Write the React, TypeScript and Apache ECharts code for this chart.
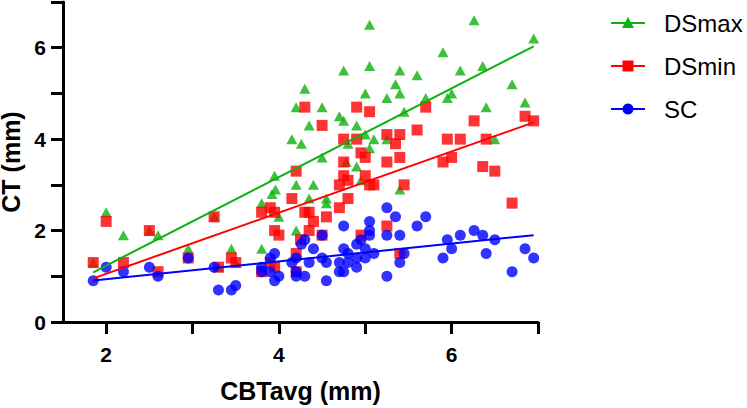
import React, { useEffect, useRef } from "react";
import * as echarts from "echarts";

// Values: [CBTavg, CT]
// (a few DSmax points lie hidden under DSmin squares at the same CBTavg)
const dsmax: [number, number][] = [
  [1.85, 1.3], [2.5, 2.0], [3.25, 2.3], [3.3, 1.2], [3.5, 1.3],
  [2.0, 2.4], [2.2, 1.9], [2.6, 1.9], [2.95, 1.6], [3.45, 1.6], [3.8, 2.6], [3.8, 1.6],
  [3.95, 3.2], [3.96, 2.9], [3.92, 2.8], [4.0, 2.3], [4.15, 4.0], [4.2, 4.7], [4.26, 3.9],
  [4.3, 5.1], [4.2, 3.0], [4.2, 2.0], [4.35, 4.3], [4.35, 2.7], [4.4, 3.0], [4.5, 4.7],
  [4.5, 3.6], [4.55, 2.7], [4.55, 2.6], [4.7, 4.5], [4.75, 4.4], [4.75, 5.5], [4.78, 3.5],
  [4.8, 3.9], [4.9, 4.3], [4.9, 3.4], [4.95, 3.1], [5.0, 5.0], [5.0, 4.1], [5.05, 6.5],
  [5.05, 5.6], [5.05, 3.8], [5.1, 4.0], [5.25, 4.9], [5.25, 4.0], [5.35, 5.2], [5.4, 5.5],
  [5.4, 5.0], [5.4, 2.9], [5.45, 4.6], [5.6, 5.4], [5.7, 4.9], [5.9, 5.9], [5.95, 4.9],
  [6.0, 5.0], [6.1, 5.5], [6.26, 6.6], [6.36, 5.6], [6.4, 4.7], [6.5, 4.0], [6.7, 5.2],
  [6.85, 4.8], [6.95, 6.2],
];

const dsmin: [number, number][] = [
  [1.85, 1.3], [2.0, 2.2], [2.2, 1.3], [2.5, 2.0], [2.6, 1.1], [2.95, 1.4], [3.25, 2.3],
  [3.3, 1.2], [3.45, 1.4], [3.5, 1.3], [3.8, 2.4], [3.9, 2.5], [3.95, 2.4], [3.95, 2.0],
  [4.0, 1.9], [4.15, 2.7], [4.2, 3.3], [3.8, 1.1], [3.9, 1.3], [3.95, 1.2], [4.2, 1.5],
  [4.2, 1.1], [4.25, 1.8], [4.3, 2.4], [4.35, 2.4], [4.4, 2.2], [4.35, 2.0], [4.55, 2.3],
  [4.5, 1.9], [4.3, 4.7], [4.5, 4.3], [4.7, 3.0], [4.7, 2.5], [4.75, 3.5], [4.75, 3.2],
  [4.75, 4.0], [4.8, 2.7], [4.8, 3.1], [4.9, 4.7], [4.9, 4.0], [4.95, 3.7], [4.95, 1.9],
  [5.0, 3.6], [5.0, 3.2], [5.05, 4.6], [5.05, 3.0], [5.1, 3.0], [5.25, 4.1], [5.25, 3.5],
  [5.25, 2.1], [5.35, 3.9], [5.4, 4.1], [5.4, 3.6], [5.4, 1.5], [5.45, 3.0], [5.6, 4.2],
  [5.7, 4.7], [5.9, 3.5], [5.95, 4.0], [6.0, 3.6], [6.1, 4.0], [6.26, 4.4], [6.36, 3.4],
  [6.4, 4.0], [6.5, 3.3], [6.7, 2.6], [6.85, 4.5], [6.95, 4.4],
];

const sc: [number, number][] = [
  [1.85, 0.9], [2.0, 1.2], [2.2, 1.1], [2.5, 1.2], [2.6, 1.0], [2.95, 1.4], [3.25, 1.2],
  [3.3, 0.7], [3.45, 0.7], [3.5, 0.8], [3.8, 1.2], [3.8, 1.1], [3.9, 1.4], [3.95, 1.5],
  [3.9, 1.1], [3.95, 0.9], [4.0, 1.0], [4.15, 1.3], [4.2, 1.4], [4.2, 1.1], [4.2, 1.0],
  [4.26, 1.7], [4.3, 1.8], [4.35, 1.3], [4.3, 1.0], [4.4, 1.6], [4.5, 1.9], [4.5, 1.4],
  [4.55, 1.3], [4.55, 0.9], [4.7, 1.3], [4.7, 1.1], [4.75, 1.6], [4.75, 2.1], [4.75, 1.1],
  [4.8, 1.5], [4.8, 1.3], [4.9, 1.7], [4.95, 1.8], [4.9, 1.2], [4.9, 1.4], [5.0, 1.6],
  [5.0, 1.4], [5.05, 2.2], [5.05, 2.0], [5.05, 1.9], [5.1, 1.5], [5.25, 2.5], [5.25, 1.9],
  [5.25, 1.0], [5.35, 2.3], [5.4, 1.9], [5.6, 2.1], [5.7, 2.3], [5.45, 1.5], [5.4, 1.3],
  [5.95, 1.8], [6.0, 1.6], [5.9, 1.4], [6.1, 1.9], [6.26, 2.0], [6.36, 1.9], [6.5, 1.8],
  [6.4, 1.5], [6.7, 1.1], [6.85, 1.6], [6.95, 1.4],
];

const seriesNames = ["DSmax", "DSmin", "SC"];
const xTicks = [2, 3, 4, 5, 6, 7];
const xLabels = [2, 4, 6];
const yTicks = [0, 1, 2, 3, 4, 5, 6, 7];
const yLabels = [0, 2, 4, 6];

const GREEN = "#0db10d";
const RED = "#ff0000";
const BLUE = "#0000ff";
const FONT = 'Arial, "Liberation Sans", sans-serif';

function linearFit(pts: [number, number][]): [number, number][] {
  const n = pts.length;
  let sx = 0, sy = 0, sxx = 0, sxy = 0;
  for (const [x, y] of pts) { sx += x; sy += y; sxx += x * x; sxy += x * y; }
  const b = (n * sxy - sx * sy) / (n * sxx - sx * sx);
  const a = (sy - b * sx) / n;
  const xs = pts.map((p) => p[0]);
  const x0 = Math.min(...xs);
  const x1 = Math.max(...xs);
  return [[x0, a + b * x0], [x1, a + b * x1]];
}

export default function App() {
  const ref = useRef<HTMLDivElement>(null);
  useEffect(() => {
    if (!ref.current) return;
    const chart = echarts.init(ref.current, undefined, { renderer: "svg" });
    const legendY = [23, 66, 109];
    const lx0 = 611, lx1 = 645, lm = 628;
    const legendGraphics: any[] = [];
    const colors = [GREEN, RED, BLUE];
    seriesNames.forEach((name, i) => {
      const y = legendY[i];
      legendGraphics.push({ type: "line", shape: { x1: lx0, y1: y, x2: lx1, y2: y }, style: { stroke: colors[i], lineWidth: 2 } });
      if (i === 0) {
        legendGraphics.push({ type: "polygon", shape: { points: [[lm, y - 6], [lm + 6, y + 5], [lm - 6, y + 5]] }, style: { fill: colors[i] } });
      } else if (i === 1) {
        legendGraphics.push({ type: "rect", shape: { x: lm - 5.5, y: y - 5.5, width: 11, height: 11 }, style: { fill: colors[i] } });
      } else {
        legendGraphics.push({ type: "circle", shape: { cx: lm, cy: y, r: 5.5 }, style: { fill: colors[i] } });
      }
      legendGraphics.push({ type: "text", x: 664, y, style: { text: name, font: `24px ${FONT}`, fill: "#000", verticalAlign: "middle", align: "left" } });
    });

    const axisCommon = {
      axisLine: { show: true, lineStyle: { color: "#000", width: 3 } },
      axisTick: { show: true, inside: false, length: 12, lineStyle: { color: "#000", width: 3 } },
      splitLine: { show: false },
      nameLocation: "middle" as const,
      nameTextStyle: { fontFamily: FONT, fontWeight: "bold", fontSize: 25, color: "#000" },
    };

    chart.setOption({
      animation: false,
      backgroundColor: "#fff",
      grid: { left: 63, right: 209, top: 2, bottom: 86, containLabel: false, outerBoundsMode: "none" },
      xAxis: {
        type: "value",
        min: 1.5,
        max: 7,
        name: "CBTavg (mm)",
        nameGap: 56,
        ...axisCommon,
        axisTick: { ...axisCommon.axisTick, customValues: xTicks },
        axisLabel: { customValues: xLabels, margin: 22, fontFamily: FONT, fontWeight: "bold", fontSize: 21, color: "#000" },
      },
      yAxis: {
        type: "value",
        min: 0,
        max: 7,
        interval: 1,
        name: "CT (mm)",
        nameGap: 33,
        ...axisCommon,
        axisTick: { ...axisCommon.axisTick, customValues: yTicks },
        axisLabel: { customValues: yLabels, margin: 17, fontFamily: FONT, fontWeight: "bold", fontSize: 21, color: "#000" },
      },
      series: [
        { name: "DSmax", type: "scatter", data: dsmax, symbol: "triangle", symbolSize: [11, 10], itemStyle: { color: GREEN }, z: 2 },
        { name: "DSmin", type: "scatter", data: dsmin, symbol: "rect", symbolSize: 11, itemStyle: { color: RED }, z: 2 },
        { name: "SC", type: "scatter", data: sc, symbol: "circle", symbolSize: 11, itemStyle: { color: BLUE }, z: 2 },
        { name: "DSmax fit", type: "line", data: linearFit(dsmax), showSymbol: false, symbol: "none", lineStyle: { color: GREEN, width: 2 }, z: 3 },
        { name: "DSmin fit", type: "line", data: linearFit(dsmin), showSymbol: false, symbol: "none", lineStyle: { color: RED, width: 2 }, z: 3 },
        { name: "SC fit", type: "line", data: linearFit(sc), showSymbol: false, symbol: "none", lineStyle: { color: BLUE, width: 2 }, z: 3 },
      ],
      graphic: legendGraphics,
    });
    return () => chart.dispose();
  }, []);
  return <div ref={ref} style={{ position: "fixed", left: 0, top: 0, width: 747, height: 408 }} />;
}
